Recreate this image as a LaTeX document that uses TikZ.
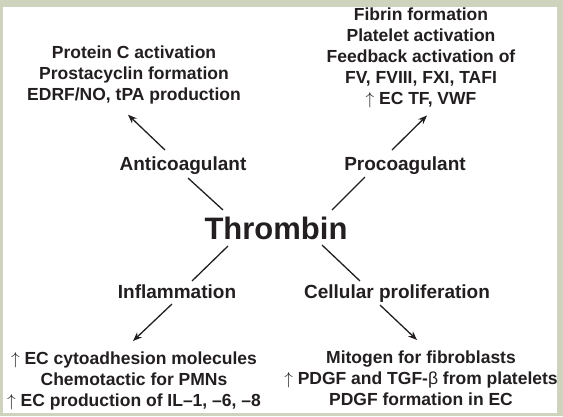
\documentclass[tikz,border=0pt]{standalone}
\usepackage{fontspec}
\setmainfont{Liberation Sans}
\usetikzlibrary{arrows.meta}

\definecolor{framegreen}{RGB}{206,211,190}
\definecolor{ink}{RGB}{35,31,32}

\NewDocumentCommand{\rise}{}{$\uparrow$\ }

\tikzset{
  hub/.style={font=\fontsize{31}{36}\selectfont\bfseries, text=ink, inner sep=0pt},
  role/.style={font=\fontsize{19}{22}\selectfont\bfseries, text=ink, inner sep=0pt, anchor=base},
  effects/.style={font=\fontsize{17.5}{21}\selectfont\bfseries, text=ink, inner sep=0pt, align=center, anchor=north},
  link/.style={draw=ink, line width=1.3pt},
  push/.style={link, -{Stealth[length=9pt,width=7pt]}},
}

\begin{document}
\begin{tikzpicture}[x=1pt,y=-1pt]
            \useasboundingbox (0,0) rectangle (563,416);
            \fill[framegreen] (0,0) rectangle (563,416);
            \fill[white] (3,7) rectangle (557,413);

            \node[hub] (thr) at (276,228) {Thrombin};
            \node[role] (anti) at (183,170) {Anticoagulant};
            \node[role] (pro) at (405,170) {Procoagulant};
            \node[role] (infl) at (177,298) {Inflammation};
            \node[role] (cell) at (397,298) {Cellular proliferation};

            \node[effects] (antifx) at (134,46) {Protein C activation\\Prostacyclin formation\\EDRF/NO, tPA production};
            \node[effects] (profx) at (421,8) {Fibrin formation\\Platelet activation\\Feedback activation of\\FV, FVIII, FXI, TAFI\\\rise EC TF, VWF};
            \node[effects] (inflfx) at (134,352) {\rise EC cytoadhesion molecules\\Chemotactic for PMNs\\\rise EC production of IL–1, –6, –8};
            \node[effects] (cellfx) at (421,351) {Mitogen for fibroblasts\\\rise PDGF and TGF-{\mdseries β} from platelets\\PDGF formation in EC};

            % NW branch.
            \draw[link] ([shift={(-53,-18)}]thr.center) -- ([shift={(5,8)}]anti.base);
            \draw[push] ([shift={(-18,-20)}]anti.base) -- ([shift={(-6,10)}]antifx.south);
            % NE branch.
            \draw[link] ([shift={(56,-18)}]thr.center) -- ([shift={(-40,7)}]pro.base);
            \draw[push] ([shift={(-13,-20)}]pro.base) -- ([shift={(6,7)}]profx.south);
            % SW branch.
            \draw[link] ([shift={(-48,18)}]thr.center) -- ([shift={(15,-17)}]infl.base);
            \draw[push] ([shift={(-5,6)}]infl.base) -- ([shift={(-1,-11)}]inflfx.north);
            % SE branch.
            \draw[link] ([shift={(46,17)}]thr.center) -- ([shift={(-37,-17)}]cell.base);
            \draw[push] ([shift={(-17,7)}]cell.base) -- ([shift={(-4,-11)}]cellfx.north);
\end{tikzpicture}
\end{document}
